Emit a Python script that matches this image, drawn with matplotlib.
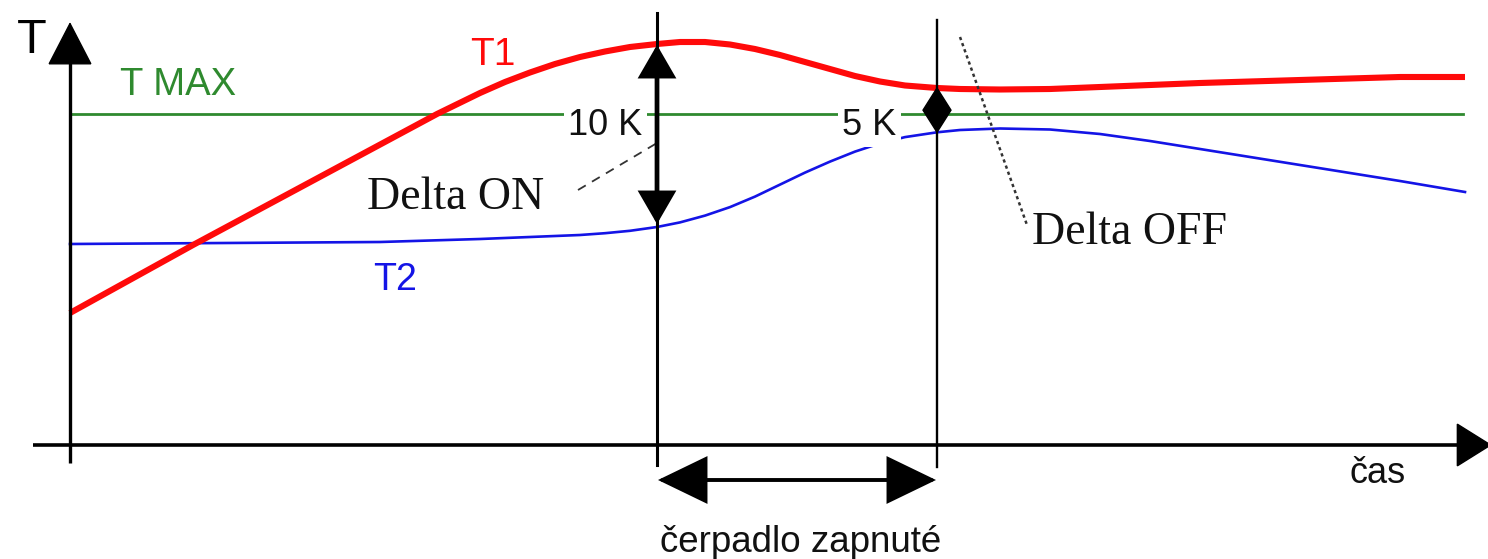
import matplotlib
matplotlib.use("Agg")
import matplotlib.pyplot as plt
from matplotlib.patches import FancyArrowPatch, Polygon

# ── data (schematic units: time to the right, temperature up) ────────────────
t1_time = [0, 12.3, 36.7, 41, 43.5, 46, 48.5, 51, 53.5, 56, 58.7, 61, 63.5,
           66, 68.5, 71, 73.5, 76, 78.5, 81, 83.5, 86.7, 89, 93, 98, 103,
           113, 123, 133, 139.5]
t1_temp = [13.2, 20.0, 33.1, 35.2, 36.3, 37.25, 38.1, 38.8, 39.35, 39.8, 40.1,
           40.3, 40.3, 40.05, 39.6, 39.0, 38.3, 37.6, 36.9, 36.35, 35.95, 35.7,
           35.6, 35.55, 35.6, 35.8, 36.2, 36.5, 36.8, 36.8]

t2_time = [0, 31, 41, 46, 51, 53.5, 56, 58.7, 61, 63.5, 66, 68.5, 71, 73.5,
           76, 78.5, 81, 83.5, 86.7, 89, 93, 98, 103, 108, 113, 123, 133, 139.5]
t2_temp = [20.1, 20.3, 20.6, 20.8, 21.0, 21.18, 21.42, 21.8, 22.26, 22.94,
           23.79, 24.84, 26.04, 27.24, 28.34, 29.34, 30.16, 30.79, 31.27, 31.5,
           31.65, 31.55, 31.1, 30.4, 29.6, 28.0, 26.4, 25.3]

t_max = 33.1
t_on = 58.7     # pump switched on  (delta 10 K)
t_off = 86.7    # pump switched off (delta 5 K)

SANS = "Liberation Sans"
SERIF = "Liberation Serif"


def arrow(ax, p0, p1, style, lw, z=5):
    ax.add_patch(FancyArrowPatch(p0, p1, arrowstyle=style, mutation_scale=10,
                                 lw=lw, color="black", shrinkA=0, shrinkB=0,
                                 joinstyle="miter", zorder=z))


fig = plt.figure(figsize=(14.88, 5.59), dpi=100)
fig.patch.set_facecolor("white")
ax = fig.add_axes([0, 0, 1, 1])
ax.set_xlim(-7, 141.8)
ax.set_ylim(-11.4, 44.5)
ax.axis("off")

# ── axes with arrows ─────────────────────────────────────────────────────────
ax.plot([0, 0], [-1.8, 38.5], color="black", lw=2.4, solid_capstyle="butt", zorder=4)
arrow(ax, (0, 37.0), (0, 42.3), "-|>,head_length=2.9,head_width=1.5", 1.0)
ax.plot([-3.7, 139], [0, 0], color="black", lw=2.6, solid_capstyle="butt", zorder=4)
arrow(ax, (136, 0), (142.2, 0), "-|>,head_length=2.4,head_width=1.5", 1.0)

# ── limit and curves ─────────────────────────────────────────────────────────
ax.plot([0, 139.3], [t_max, t_max], color="#2f8a2f", lw=2.0, zorder=2)
ax.plot(t2_time, t2_temp, color="#1414e6", lw=1.9, zorder=2,
        solid_joinstyle="round")
ax.plot(t1_time, t1_temp, color="#ff0a0a", lw=4.4, zorder=3,
        solid_joinstyle="round", solid_capstyle="butt")

# ── switching moments ────────────────────────────────────────────────────────
ax.plot([t_on, t_on], [-2.0, 43.2], color="black", lw=2.2, zorder=6)
ax.plot([t_off, t_off], [-2.2, 42.5], color="black", lw=1.7, zorder=6)

i_on = t1_time.index(t_on)
j_on = t2_time.index(t_on)
arrow(ax, (t_on, t2_temp[j_on] + 0.3), (t_on, t1_temp[i_on] - 0.1),
      "<|-|>,head_length=1.9,head_width=1.1", 3.4, z=7)

i_off = t1_time.index(t_off)
j_off = t2_time.index(t_off)
top, bot = t1_temp[i_off], t2_temp[j_off]
mid = (top + bot) / 2
w = 1.4
ax.add_patch(Polygon([(t_off, top), (t_off + w, mid), (t_off, bot), (t_off - w, mid)],
                     closed=True, fc="black", ec="black", lw=1, zorder=7))

# pump-on interval under the time axis
arrow(ax, (t_on + 0.1, -3.5), (t_off - 0.1, -3.5),
      "<|-|>,head_length=3.1,head_width=1.5", 2.8)

# ── pointer lines ────────────────────────────────────────────────────────────
ax.plot([50.8, 58.7], [25.5, 30.2], color="#333333", lw=1.3,
        linestyle=(0, (5, 4)), zorder=4)
ax.plot([89.0, 95.7], [40.8, 22.0], color="#333333", lw=1.8,
        linestyle=(0, (1.3, 1.3)), zorder=4)

# ── labels ───────────────────────────────────────────────────────────────────
ax.text(-5.3, 39.2, "T", fontsize=35, family=SANS, color="black")
ax.text(5.0, 35.0, "T MAX", fontsize=27.5, family=SANS, color="#2f8a2f")
ax.text(40.0, 38.0, "T1", fontsize=28, family=SANS, color="#ff0a0a")
ax.text(30.3, 15.5, "T2", fontsize=27, family=SANS, color="#1414e6")
ax.text(49.8, 31.0, "10 K", fontsize=26, family=SANS, color="#111111", zorder=5,
        bbox=dict(fc="white", ec="none", pad=3))
ax.text(77.2, 31.0, "5 K", fontsize=26, family=SANS, color="#111111", zorder=5,
        bbox=dict(fc="white", ec="none", pad=3))
ax.text(29.7, 23.6, "Delta ON", fontsize=33, family=SERIF, color="#111111", zorder=5)
ax.text(96.2, 20.1, "Delta OFF", fontsize=33, family=SERIF, color="#111111", zorder=5)
ax.text(59.0, -10.7, "čerpadlo zapnuté", fontsize=26.5, family=SANS, color="#111111")
ax.text(128.0, -3.8, "čas", fontsize=26, family=SANS, color="#111111")

fig.savefig("out.png", dpi=100, facecolor="white")
